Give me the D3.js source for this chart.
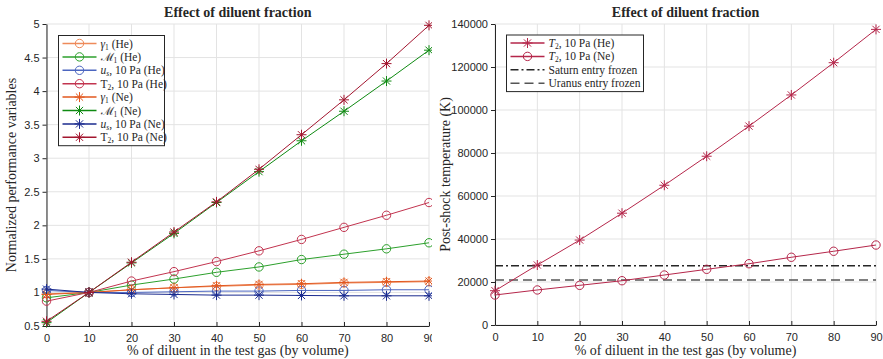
<!DOCTYPE html>
<html>
<head>
<meta charset="utf-8">
<script src="https://cdn.jsdelivr.net/npm/d3@7"></script>
<style>
  body { margin: 0; background: #fff; }
  svg { display: block; }
  .tick text { font-family: "Liberation Sans", Arial, sans-serif; font-size: 11px; fill: #262626; }
  .serif { font-family: "Liberation Serif", "DejaVu Serif", serif; fill: #262626; }
</style>
</head>
<body>
<div id="chart"></div>
<script>
/* Effect of diluent fraction: two panels */

const dilution = [0, 10, 20, 30, 40, 50, 60, 70, 80, 90];

// left panel, normalized to the 10 % case
const gammaHe = [0.98, 1.0, 1.04, 1.07, 1.09, 1.11, 1.12, 1.14, 1.15, 1.16];
const machHe  = [0.92, 1.0, 1.11, 1.20, 1.30, 1.38, 1.49, 1.57, 1.65, 1.74];
const usHe    = [1.03, 1.0, 1.0, 1.01, 1.02, 1.02, 1.03, 1.03, 1.04, 1.04];
const t2He    = [0.87, 1.0, 1.17, 1.31, 1.46, 1.62, 1.79, 1.97, 2.15, 2.34];
const gammaNe = [0.97, 1.0, 1.04, 1.07, 1.10, 1.12, 1.13, 1.15, 1.16, 1.17];
const machNe  = [0.55, 1.0, 1.44, 1.88, 2.34, 2.80, 3.26, 3.70, 4.15, 4.61];
const usNe    = [1.05, 1.0, 0.98, 0.97, 0.96, 0.96, 0.955, 0.95, 0.95, 0.95];
const t2Ne    = [0.57, 1.0, 1.45, 1.90, 2.35, 2.835, 3.35, 3.87, 4.41, 4.98];

// right panel, post-shock temperature (K)
const tempHe = [15950, 27900, 39500, 52000, 65000, 78500, 92500, 107000, 122000, 137500];
const tempNe = [13950, 16300, 18450, 20600, 23250, 25900, 28500, 31500, 34300, 37200];
const saturnFrozen = 27600;
const uranusFrozen = 20900;

const leftTicks = [0.5, 1, 1.5, 2, 2.5, 3, 3.5, 4, 4.5, 5];
const rightTicks = [0, 20000, 40000, 60000, 80000, 100000, 120000, 140000];

const width = 883, height = 359;

const svg = d3.select("#chart")
    .append("svg")
    .attr("width", width)
    .attr("height", height);

// star marker: + and x combined
function star(g, x, y, r, color) {
    const d = r * 0.72;
    g.append("path")
        .attr("d", `M${x - r},${y}H${x + r}M${x},${y - r}V${y + r}` +
                   `M${x - d},${y - d}L${x + d},${y + d}M${x - d},${y + d}L${x + d},${y - d}`)
        .attr("stroke", color)
        .attr("stroke-width", 1)
        .attr("fill", "none");
}

function circle(g, x, y, r, color) {
    g.append("circle")
        .attr("cx", x).attr("cy", y).attr("r", r)
        .attr("fill", "none")
        .attr("stroke", color)
        .attr("stroke-width", 1);
}

function panel(opts) {
    const g = svg.append("g");

    const x = d3.scaleLinear().domain([0, 90]).range(opts.xr);
    const y = d3.scaleLinear().domain(opts.yd).range(opts.yr);

    // grid
    g.append("g")
        .selectAll("line.gx")
        .data(dilution)
        .join("line")
        .attr("x1", d => x(d)).attr("x2", d => x(d))
        .attr("y1", opts.yr[0]).attr("y2", opts.yr[1])
        .attr("stroke", "#e3e3e3");
    g.append("g")
        .selectAll("line.gy")
        .data(opts.ticks)
        .join("line")
        .attr("x1", opts.xr[0]).attr("x2", opts.xr[1])
        .attr("y1", d => y(d)).attr("y2", d => y(d))
        .attr("stroke", "#e3e3e3");

    const xAxis = g.append("g")
        .attr("transform", `translate(0,${opts.yr[0]})`)
        .call(d3.axisBottom(x).tickValues(dilution).tickSizeInner(-4).tickSizeOuter(0).tickPadding(8));
    const yAxis = g.append("g")
        .attr("transform", `translate(${opts.xr[0]},0)`)
        .call(d3.axisLeft(y).tickValues(opts.ticks).tickSizeInner(4).tickSizeOuter(0).tickPadding(3)
              .tickFormat(opts.fmt));
    for (const a of [xAxis, yAxis]) {
        a.select(".domain").attr("stroke", "#262626");
        a.selectAll(".tick line").attr("stroke", "#262626");
    }

    // title and labels
    const cx = (opts.xr[0] + opts.xr[1]) / 2;
    g.append("text").attr("class", "serif")
        .attr("x", cx).attr("y", 17)
        .attr("text-anchor", "middle")
        .attr("font-weight", "bold")
        .attr("font-size", 14)
        .attr("fill", "#000")
        .text("Effect of diluent fraction");
    g.append("text").attr("class", "serif")
        .attr("x", cx).attr("y", 355)
        .attr("text-anchor", "middle")
        .attr("font-size", 14)
        .text("% of diluent in the test gas (by volume)");
    g.append("text").attr("class", "serif")
        .attr("transform", `translate(${opts.ylabelX},${(opts.yr[0] + opts.yr[1]) / 2}) rotate(-90)`)
        .attr("text-anchor", "middle")
        .attr("font-size", 14)
        .text(opts.ylabel);

    return { g, x, y };
}

function drawSeries(p, values, color, marker) {
    const line = d3.line().x((d, i) => p.x(dilution[i])).y(d => p.y(d));
    p.g.append("path")
        .datum(values)
        .attr("d", line)
        .attr("fill", "none")
        .attr("stroke", color)
        .attr("stroke-width", 1);
    values.forEach((v, i) => marker(p.g, p.x(dilution[i]), p.y(v), marker === star ? 5 : 4.2, color));
}

// label with subscripts: parts = [[text, style]]
function richText(g, x, y, parts) {
    const t = g.append("text").attr("class", "serif")
        .attr("x", x).attr("y", y)
        .attr("font-size", 11.5);
    for (const [s, st] of parts) {
        const ts = t.append("tspan").text(s);
        if (st === "i") ts.attr("font-style", "italic");
        if (st === "sub") ts.attr("font-size", 7.5).attr("dy", 2);
        if (st === "isub") ts.attr("font-size", 7.5).attr("dy", 2).attr("font-style", "italic");
        if (st === "back") ts.attr("dy", -2);
    }
}

function legend(g, x0, y0, w, entries) {
    const rowH = 13.4;
    g.append("rect")
        .attr("x", x0).attr("y", y0)
        .attr("width", w).attr("height", rowH * entries.length + 3)
        .attr("fill", "#fff")
        .attr("stroke", "#262626")
        .attr("stroke-width", 1);
    entries.forEach((e, i) => {
        const yy = y0 + 8 + i * rowH;
        g.append("line")
            .attr("x1", x0 + 4).attr("x2", x0 + 38)
            .attr("y1", yy).attr("y2", yy)
            .attr("stroke", e.color)
            .attr("stroke-width", 1.5)
            .attr("stroke-dasharray", e.dash || null);
        if (e.marker) e.marker(g, x0 + 21, yy, e.marker === star ? 5 : 4.2, e.color);
        richText(g, x0 + 42, yy + 4, e.label);
    });
}

// left panel
const left = panel({
    xr: [46.5, 429], yd: [0.5, 5], yr: [326, 24], ticks: leftTicks,
    fmt: d3.format(""), ylabel: "Normalized performance variables", ylabelX: 16
});

const cols = {
    gammaHe: "#ee8a5a", machHe: "#2ca02c", usHe: "#4c66c0", t2He: "#c2344f",
    gammaNe: "#e2571e", machNe: "#0f8a12", usNe: "#1a2a8e", t2Ne: "#a3162f"
};

drawSeries(left, gammaHe, cols.gammaHe, circle);
drawSeries(left, machHe, cols.machHe, circle);
drawSeries(left, usHe, cols.usHe, circle);
drawSeries(left, t2He, cols.t2He, circle);
drawSeries(left, gammaNe, cols.gammaNe, star);
drawSeries(left, machNe, cols.machNe, star);
drawSeries(left, usNe, cols.usNe, star);
drawSeries(left, t2Ne, cols.t2Ne, star);

legend(left.g, 58.5, 35.5, 106, [
    { color: cols.gammaHe, marker: circle, label: [["γ", "i"], ["1", "sub"], [" (He)", "back"]] },
    { color: cols.machHe, marker: circle, label: [["ℳ", ""], ["1", "sub"], [" (He)", "back"]] },
    { color: cols.usHe, marker: circle, label: [["u", "i"], ["s", "isub"], [", 10 Pa (He)", "back"]] },
    { color: cols.t2He, marker: circle, label: [["T", ""], ["2", "sub"], [", 10 Pa (He)", "back"]] },
    { color: cols.gammaNe, marker: star, label: [["γ", "i"], ["1", "sub"], [" (Ne)", "back"]] },
    { color: cols.machNe, marker: star, label: [["ℳ", ""], ["1", "sub"], [" (Ne)", "back"]] },
    { color: cols.usNe, marker: star, label: [["u", "i"], ["s", "isub"], [", 10 Pa (Ne)", "back"]] },
    { color: cols.t2Ne, marker: star, label: [["T", ""], ["2", "sub"], [", 10 Pa (Ne)", "back"]] }
]);

// white backdrop for the right panel (clips the left "90" label)
svg.append("rect").attr("x", 432).attr("y", 0).attr("width", width - 432).attr("height", height).attr("fill", "#fff");

// right panel
const right = panel({
    xr: [495, 876], yd: [0, 140000], yr: [325, 24], ticks: rightTicks,
    fmt: d3.format("d"), ylabel: "Post-shock temperature (K)", ylabelX: 450
});

const tCol = "#b5264a";
right.g.append("line")
    .attr("x1", right.x(0)).attr("x2", right.x(90))
    .attr("y1", right.y(saturnFrozen)).attr("y2", right.y(saturnFrozen))
    .attr("stroke", "#262626").attr("stroke-width", 1.5)
    .attr("stroke-dasharray", "8,3,2,3");
right.g.append("line")
    .attr("x1", right.x(0)).attr("x2", right.x(90))
    .attr("y1", right.y(uranusFrozen)).attr("y2", right.y(uranusFrozen))
    .attr("stroke", "#555").attr("stroke-width", 1.5)
    .attr("stroke-dasharray", "9,5");

drawSeries(right, tempHe, tCol, star);
drawSeries(right, tempNe, tCol, circle);

legend(right.g, 506.5, 35, 137, [
    { color: tCol, marker: star, label: [["T", "i"], ["2", "sub"], [", 10 Pa (He)", "back"]] },
    { color: tCol, marker: circle, label: [["T", "i"], ["2", "sub"], [", 10 Pa (Ne)", "back"]] },
    { color: "#262626", dash: "8,3,2,3", label: [["Saturn entry frozen", ""]] },
    { color: "#555", dash: "9,5", label: [["Uranus entry frozen", ""]] }
]);
</script>
</body>
</html>
